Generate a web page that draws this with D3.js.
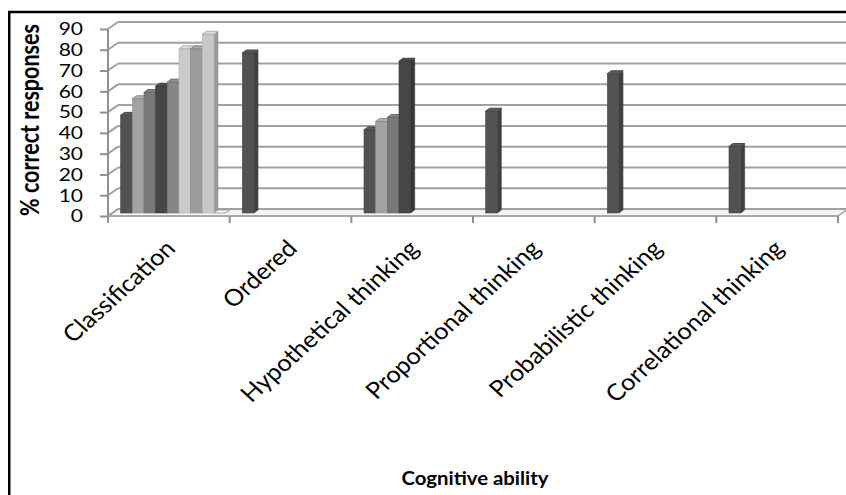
<!DOCTYPE html>
<html>
<head>
<meta charset="utf-8">
<script src="https://cdn.jsdelivr.net/npm/d3@7"></script>
<style>
  body { margin: 0; background: #fff; }
  text { font-family: Lato, "Open Sans", sans-serif; fill: #000; }
</style>
</head>
<body>
<svg id="chart" width="846" height="495"></svg>
<script>
// Categories of cognitive ability on the x axis
const categories = [
  "Classification",
  "Ordered",
  "Hypothetical thinking",
  "Proportional thinking",
  "Probabilistic thinking",
  "Correlational thinking"
];

// % correct responses per item series (null = no item in that category)
const seriesNames = ["item1", "item2", "item3", "item4", "item5", "item6", "item7", "item8", "item9"];
const item1 = [47, 77, 40, 49, 67, 32];
const item2 = [55, null, 44, null, null, null];
const item3 = [58, null, 46, null, null, null];
const item4 = [61, null, 73, null, null, null];
const item5 = [63, null, null, null, null, null];
const item6 = [79, null, null, null, null, null];
const item7 = [79, null, null, null, null, null];
const item8 = [86, null, null, null, null, null];
const item9 = [0, null, null, null, null, null];
const seriesValues = [item1, item2, item3, item4, item5, item6, item7, item8, item9];

const yTicks = [0, 10, 20, 30, 40, 50, 60, 70, 80, 90];
const yTitle = "% correct responses";
const xTitle = "Cognitive ability";

// grey shades of the column series
const seriesColors = ["#525252", "#a2a2a2", "#787878", "#464646", "#868686", "#cacaca", "#9c9c9c", "#c8c8c8", "#f4f4f4"];

const svg = d3.select("#chart");

// horizontal text stretch
const SX = 1.2;
const SXcat = 1.1;

// 3-D geometry: front plane, wall depth offsets and column depth
const left = 108, right = 838;
const wallDX = 10, wallDY = -7;
const barShiftY = -3;           // columns sit part-way into the depth
const barDX = 4, barDY = -3;    // column depth

const x = d3.scaleBand().domain(categories).range([left, right]);
const bw = x.bandwidth();
const inner = d3.scaleBand().domain(seriesNames)
  .range([0.104 * bw, 0.104 * bw + 9 * 0.0959 * bw]);
const y = d3.scaleLinear().domain([0, 90]).range([216, 29]);

const gridColor = "#a0a0a0";

// frame
svg.append("rect")
  .attr("x", 9.25).attr("y", 12).attr("width", 1000).attr("height", 1000)
  .attr("fill", "none").attr("stroke", "#000").attr("stroke-width", 2.5);

// floor
const floorPts = [
  [left, y(0)], [right, y(0)], [right + wallDX, y(0) + wallDY], [left + wallDX, y(0) + wallDY]
];
svg.append("polygon")
  .attr("points", floorPts.map(p => p.join(",")).join(" "))
  .attr("fill", "#f4f4f4").attr("stroke", gridColor).attr("stroke-width", 1.5);

// back-wall gridlines
svg.append("g").selectAll("line").data(yTicks).join("line")
  .attr("x1", left + wallDX).attr("x2", right + wallDX)
  .attr("y1", d => y(d) + wallDY).attr("y2", d => y(d) + wallDY)
  .attr("stroke", gridColor).attr("stroke-width", 2);

// side-wall gridlines
svg.append("g").selectAll("line").data(yTicks).join("line")
  .attr("x1", left).attr("x2", left + wallDX)
  .attr("y1", d => y(d)).attr("y2", d => y(d) + wallDY)
  .attr("stroke", gridColor).attr("stroke-width", 2);

// value axis
const yAxis = svg.append("g").attr("transform", `translate(${left},0)`)
  .call(d3.axisLeft(y).tickValues(yTicks).tickSize(8).tickFormat(""));
yAxis.select(".domain").attr("stroke", "#8f8f8f").attr("stroke-width", 2).attr("d", `M0,${y(90)}V${y(0)}`);
yAxis.selectAll(".tick line").attr("stroke", "#8f8f8f").attr("stroke-width", 2);

// front floor edge and category tick marks
svg.append("line")
  .attr("x1", left).attr("x2", right).attr("y1", y(0)).attr("y2", y(0))
  .attr("stroke", "#a8a8a8").attr("stroke-width", 2);
const tickXs = categories.map(c => x(c)).concat([right]);
svg.append("g").selectAll("line").data(tickXs).join("line")
  .attr("x1", d => d).attr("x2", d => d)
  .attr("y1", y(0)).attr("y2", y(0) + 7)
  .attr("stroke", "#8f8f8f").attr("stroke-width", 2);

// columns: front, top and right faces
const bars = [];
categories.forEach((c, ci) => {
  seriesNames.forEach((s, si) => {
    const v = seriesValues[si][ci];
    if (v === null) return;
    bars.push({ c, s, si, v });
  });
});

const poly = pts => pts.map(p => p.join(",")).join(" ");
const gBars = svg.append("g");
bars.forEach(b => {
  const x0 = x(b.c) + inner(b.s);
  const w = inner.bandwidth();
  const yb = y(0) + barShiftY;
  const yt = y(b.v) + barShiftY;
  const col = d3.color(seriesColors[b.si]);
  const g = gBars.append("g");
  g.append("polygon")
    .attr("points", poly([[x0 + w, yt], [x0 + w + barDX, yt + barDY], [x0 + w + barDX, yb + barDY], [x0 + w, yb]]))
    .attr("fill", col.darker(0.7)).attr("stroke", col.darker(0.9)).attr("stroke-width", 0.6);
  g.append("rect")
    .attr("x", x0).attr("y", yt).attr("width", w).attr("height", yb - yt)
    .attr("fill", col).attr("stroke", col.darker(0.3)).attr("stroke-width", 0.6);
  g.append("polygon")
    .attr("points", poly([[x0, yt], [x0 + w, yt], [x0 + w + barDX, yt + barDY], [x0 + barDX, yt + barDY]]))
    .attr("fill", col.brighter(0.25)).attr("stroke", col.darker(b.v === 0 ? 1.2 : 0.4)).attr("stroke-width", 1);
});

// value labels
svg.append("g").selectAll("text").data(yTicks).join("text")
  .attr("transform", d => `translate(83,${y(d)}) scale(${SX},1)`)
  .attr("text-anchor", "end").attr("dy", "0.36em")
  .style("font-size", "17.5px")
  .text(d => d);

// category labels
svg.append("g").selectAll("text").data(categories).join("text")
  .attr("transform", d => `translate(${x(d) + bw / 2 + 8},250) scale(${SXcat},1) rotate(-45)`)
  .attr("text-anchor", "end")
  .style("font-size", "23px")
  .text(d => d);

// axis titles
svg.append("text")
  .attr("transform", `translate(39,120) scale(${SX},1) rotate(-90)`)
  .attr("text-anchor", "middle")
  .style("font-size", "21.5px").style("font-weight", "bold")
  .text(yTitle);

svg.append("text")
  .attr("transform", `translate(475,485) scale(1.1,1)`)
  .attr("text-anchor", "middle")
  .style("font-size", "18.5px").style("font-weight", "bold")
  .text(xTitle);
</script>
</body>
</html>
